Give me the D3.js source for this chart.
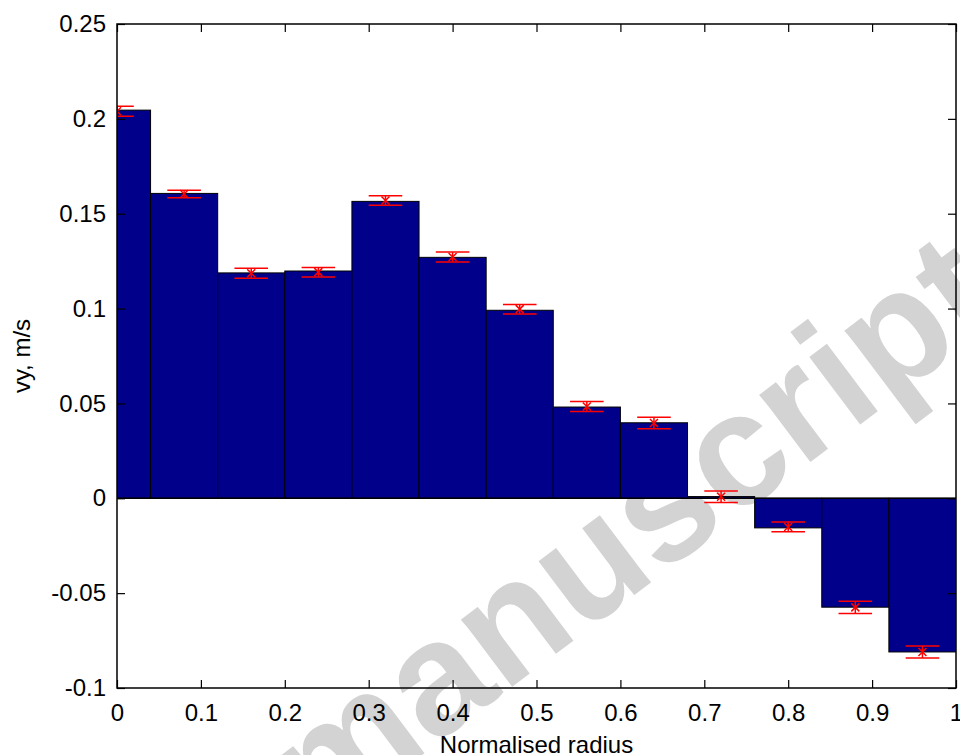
<!DOCTYPE html>
<html>
<head>
<meta charset="utf-8">
<script src="https://cdn.jsdelivr.net/npm/d3@7"></script>
<style>
  body { margin: 0; background: #fff; }
  svg { display: block; }
  text { font-family: "Liberation Sans", Arial, sans-serif; }
</style>
</head>
<body>
<svg id="chart" width="960" height="755"></svg>
<script>
// bin centres along the normalised radius (bin width 0.08)
const radiusBins = [0, 0.08, 0.16, 0.24, 0.32, 0.40, 0.48, 0.56, 0.64, 0.72, 0.80, 0.88, 0.96];
// bar heights, vy in m/s
const vyBars = [0.2046, 0.1607, 0.1188, 0.1198, 0.1565, 0.1270, 0.0991, 0.0481, 0.0398, 0.0009, -0.0156, -0.0574, -0.0810];
// red error bar centres and half-widths
const vyMeans = [0.2040, 0.1604, 0.1186, 0.1192, 0.1570, 0.1272, 0.0997, 0.0484, 0.0397, 0.0008, -0.0151, -0.0575, -0.0810];
const vyErr = [0.0026, 0.0020, 0.0026, 0.0025, 0.0025, 0.0026, 0.0025, 0.0026, 0.0030, 0.0030, 0.0026, 0.0032, 0.0032];
const xTicks = [0, 0.1, 0.2, 0.3, 0.4, 0.5, 0.6, 0.7, 0.8, 0.9, 1];
const yTicks = [-0.1, -0.05, 0, 0.05, 0.1, 0.15, 0.2, 0.25];

const binWidth = 0.08;
const capHalf = 0.02;
const margin = {top: 24, left: 117, right: 4, bottom: 67};
const width = 960, height = 755;

const svg = d3.select('#chart');

// watermark, sits under the plot
svg.append('text')
  .attr('transform', 'translate(638,540) rotate(-37)')
  .attr('text-anchor', 'middle')
  .attr('dy', '0.26em')
  .attr('font-size', 160)
  .attr('font-weight', 'bold')
  .attr('fill', '#d3d3d3')
  .text('manuscript');

const x = d3.scaleLinear().domain([0, 1]).range([margin.left, width - margin.right]);
const y = d3.scaleLinear().domain([-0.1, 0.25]).range([height - margin.bottom, margin.top]);

svg.append('clipPath').attr('id', 'plot-clip')
  .append('rect')
    .attr('x', x(0)).attr('y', y(0.25))
    .attr('width', x(1) - x(0)).attr('height', y(-0.1) - y(0.25));

const plot = svg.append('g').attr('clip-path', 'url(#plot-clip)');

const rows = radiusBins.map((r, i) => ({r, v: vyBars[i], m: vyMeans[i], e: vyErr[i]}));

// bars
plot.selectAll('.bar').data(rows).enter()
  .append('rect')
    .attr('class', 'bar')
    .attr('x', d => x(d.r - binWidth / 2))
    .attr('width', d => x(d.r + binWidth / 2) - x(d.r - binWidth / 2))
    .attr('y', d => y(Math.max(0, d.v)))
    .attr('height', d => Math.abs(y(d.v) - y(0)))
    .attr('fill', '#00008b')
    .attr('stroke', '#000')
    .attr('stroke-width', 1);

// baseline
plot.append('line')
  .attr('x1', x(0)).attr('x2', x(1))
  .attr('y1', y(0)).attr('y2', y(0))
  .attr('stroke', '#000').attr('stroke-width', 1.5);

// error bars
const err = plot.selectAll('.err').data(rows).enter()
  .append('g').attr('class', 'err')
  .attr('stroke', '#ff0000').attr('stroke-width', 1.5).attr('fill', 'none');

err.append('line')
  .attr('x1', d => x(d.r)).attr('x2', d => x(d.r))
  .attr('y1', d => y(d.m + d.e)).attr('y2', d => y(d.m - d.e));
err.append('line')
  .attr('x1', d => x(d.r - capHalf)).attr('x2', d => x(d.r + capHalf))
  .attr('y1', d => y(d.m + d.e)).attr('y2', d => y(d.m + d.e));
err.append('line')
  .attr('x1', d => x(d.r - capHalf)).attr('x2', d => x(d.r + capHalf))
  .attr('y1', d => y(d.m - d.e)).attr('y2', d => y(d.m - d.e));
err.append('path')
  .attr('d', d => {
    const cx = x(d.r), cy = y(d.m), s = 4;
    return `M${cx - s},${cy - s}L${cx + s},${cy + s}M${cx - s},${cy + s}L${cx + s},${cy - s}`;
  });

// axes, ticks pointing inward, plain hyphen for negatives like matlab
const fontSize = 24;
const plain = d => String(d);
svg.append('g')
  .attr('transform', `translate(0,${y(-0.1)})`)
  .call(d3.axisBottom(x).tickValues(xTicks).tickFormat(plain).tickSizeInner(-8).tickSizeOuter(0).tickPadding(16));
svg.append('g')
  .attr('transform', `translate(0,${y(0.25)})`)
  .call(d3.axisTop(x).tickValues(xTicks).tickFormat('').tickSizeInner(-8).tickSizeOuter(0));
svg.append('g')
  .attr('transform', `translate(${x(0)},0)`)
  .call(d3.axisLeft(y).tickValues(yTicks).tickFormat(plain).tickSizeInner(-8).tickSizeOuter(0).tickPadding(11));
svg.append('g')
  .attr('transform', `translate(${x(1)},0)`)
  .call(d3.axisRight(y).tickValues(yTicks).tickFormat('').tickSizeInner(-8).tickSizeOuter(0));

svg.selectAll('.domain').remove();
svg.selectAll('.tick line').attr('stroke', '#000').attr('stroke-width', 1.2);
svg.selectAll('.tick text')
  .attr('font-family', '"Liberation Sans", Arial, sans-serif')
  .attr('font-size', fontSize)
  .attr('fill', '#000');

// axes box
svg.append('rect')
  .attr('x', x(0)).attr('y', y(0.25))
  .attr('width', x(1) - x(0)).attr('height', y(-0.1) - y(0.25))
  .attr('fill', 'none').attr('stroke', '#000').attr('stroke-width', 1.5);

// axis titles
svg.append('text')
  .attr('x', (x(0) + x(1)) / 2)
  .attr('y', 753)
  .attr('text-anchor', 'middle')
  .attr('font-size', fontSize)
  .text('Normalised radius');

svg.append('text')
  .attr('transform', `translate(30,${(y(0.25) + y(-0.1)) / 2}) rotate(-90)`)
  .attr('text-anchor', 'middle')
  .attr('font-size', fontSize)
  .text('vy, m/s');
</script>
</body>
</html>
